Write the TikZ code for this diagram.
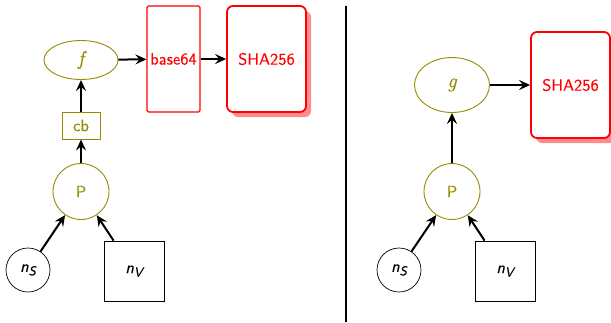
\documentclass[tikz,border=0pt]{standalone}
\usepackage{fontspec}
\setsansfont{lmsans10-regular.otf}[ItalicFont=lmsans10-oblique.otf, FakeBold=0.2]
\newfontfamily\fgfont{lmroman10-italic.otf}[FakeBold=0.4]
\usetikzlibrary{arrows.meta,shapes.geometric,shadows}
\definecolor{fnolive}{RGB}{150,140,0}
\definecolor{hashred}{RGB}{255,0,0}
\newcommand{\subidx}[2]{{\itshape #1}\raisebox{-3.5pt}{\fontsize{13}{14}\selectfont\itshape #2}}
\begin{document}
\begin{tikzpicture}[x=1pt,y=-1pt,
  every node/.style={font=\sffamily\fontsize{16.5}{19}\selectfont},
  link/.style={-{Stealth[length=11pt,width=10pt,inset=4pt]}, line width=2pt},
  fnode/.style={ellipse, draw=fnolive, text=fnolive, line width=0.9pt, inner sep=0pt,
    font=\fgfont\fontsize{20}{24}\selectfont},
  cbbox/.style={rectangle, draw=fnolive, text=fnolive, line width=1pt, minimum width=38pt, minimum height=27pt, inner sep=0pt},
  pnode/.style={circle, draw=fnolive, text=fnolive, line width=0.9pt, minimum size=56pt, inner sep=0pt},
  snode/.style={circle, draw, line width=0.7pt, minimum size=44pt, inner sep=0pt},
  vnode/.style={rectangle, draw, line width=0.8pt, minimum size=60pt, inner sep=0pt},
  encbox/.style={rectangle, draw=hashred, text=hashred, line width=1.2pt, rounded corners=1.5pt, minimum width=53pt, minimum height=106pt, inner sep=0pt},
  hashbox/.style={rectangle, draw=hashred, text=hashred, fill=white, line width=1.8pt, rounded corners=6pt, minimum width=79pt, minimum height=106pt, inner sep=0pt,
    drop shadow={shadow xshift=5pt, shadow yshift=-5pt, fill=hashred!45, opacity=1}},
]
\useasboundingbox (0,0) rectangle (611,322);

% left panel: P -> cb -> f -> base64 -> SHA256
\node[fnode, minimum width=74pt, minimum height=39pt] (f) at (81,60) {f};
\node[encbox] (b64) at (173.5,59) {base64};
\node[hashbox] (shaL) at (266.5,59) {SHA256};
\node[cbbox] (cb) at (81,125.5) {cb};
\node[pnode] (pL) at (81,191.5) {P};
\node[snode] (nsL) at (28,270) {\subidx{n}{S}};
\node[vnode] (nvL) at (134,271) {\subidx{n}{V}};

\draw[link] (pL) -- (cb);
\draw[link] (cb) -- (f);
\draw[link] (f) -- (b64);
\draw[link] (b64) -- (shaL);
\draw[link] (nsL) -- (pL);
\path (nvL.north west) ++(10pt,0) coordinate (nvLt);
\draw[link] (nvLt) -- (pL);

% separator
\coordinate (sepTop) at (346,6);
\coordinate (sepBot) at (346,322);
\draw[line width=1.6pt] (sepTop) -- (sepBot);

% right panel: P -> g -> SHA256
\node[fnode, minimum width=75pt, minimum height=55pt] (g) at (452,85) {g};
\node[hashbox] (shaR) at (570.5,85) {SHA256};
\node[pnode] (pR) at (452,191.5) {P};
\node[snode] (nsR) at (399,270) {\subidx{n}{S}};
\node[vnode] (nvR) at (505,271) {\subidx{n}{V}};

\draw[link] (pR) -- (g);
\draw[link] (g) -- (shaR);
\draw[link] (nsR) -- (pR);
\path (nvR.north west) ++(10pt,0) coordinate (nvRt);
\draw[link] (nvRt) -- (pR);
\end{tikzpicture}
\end{document}
